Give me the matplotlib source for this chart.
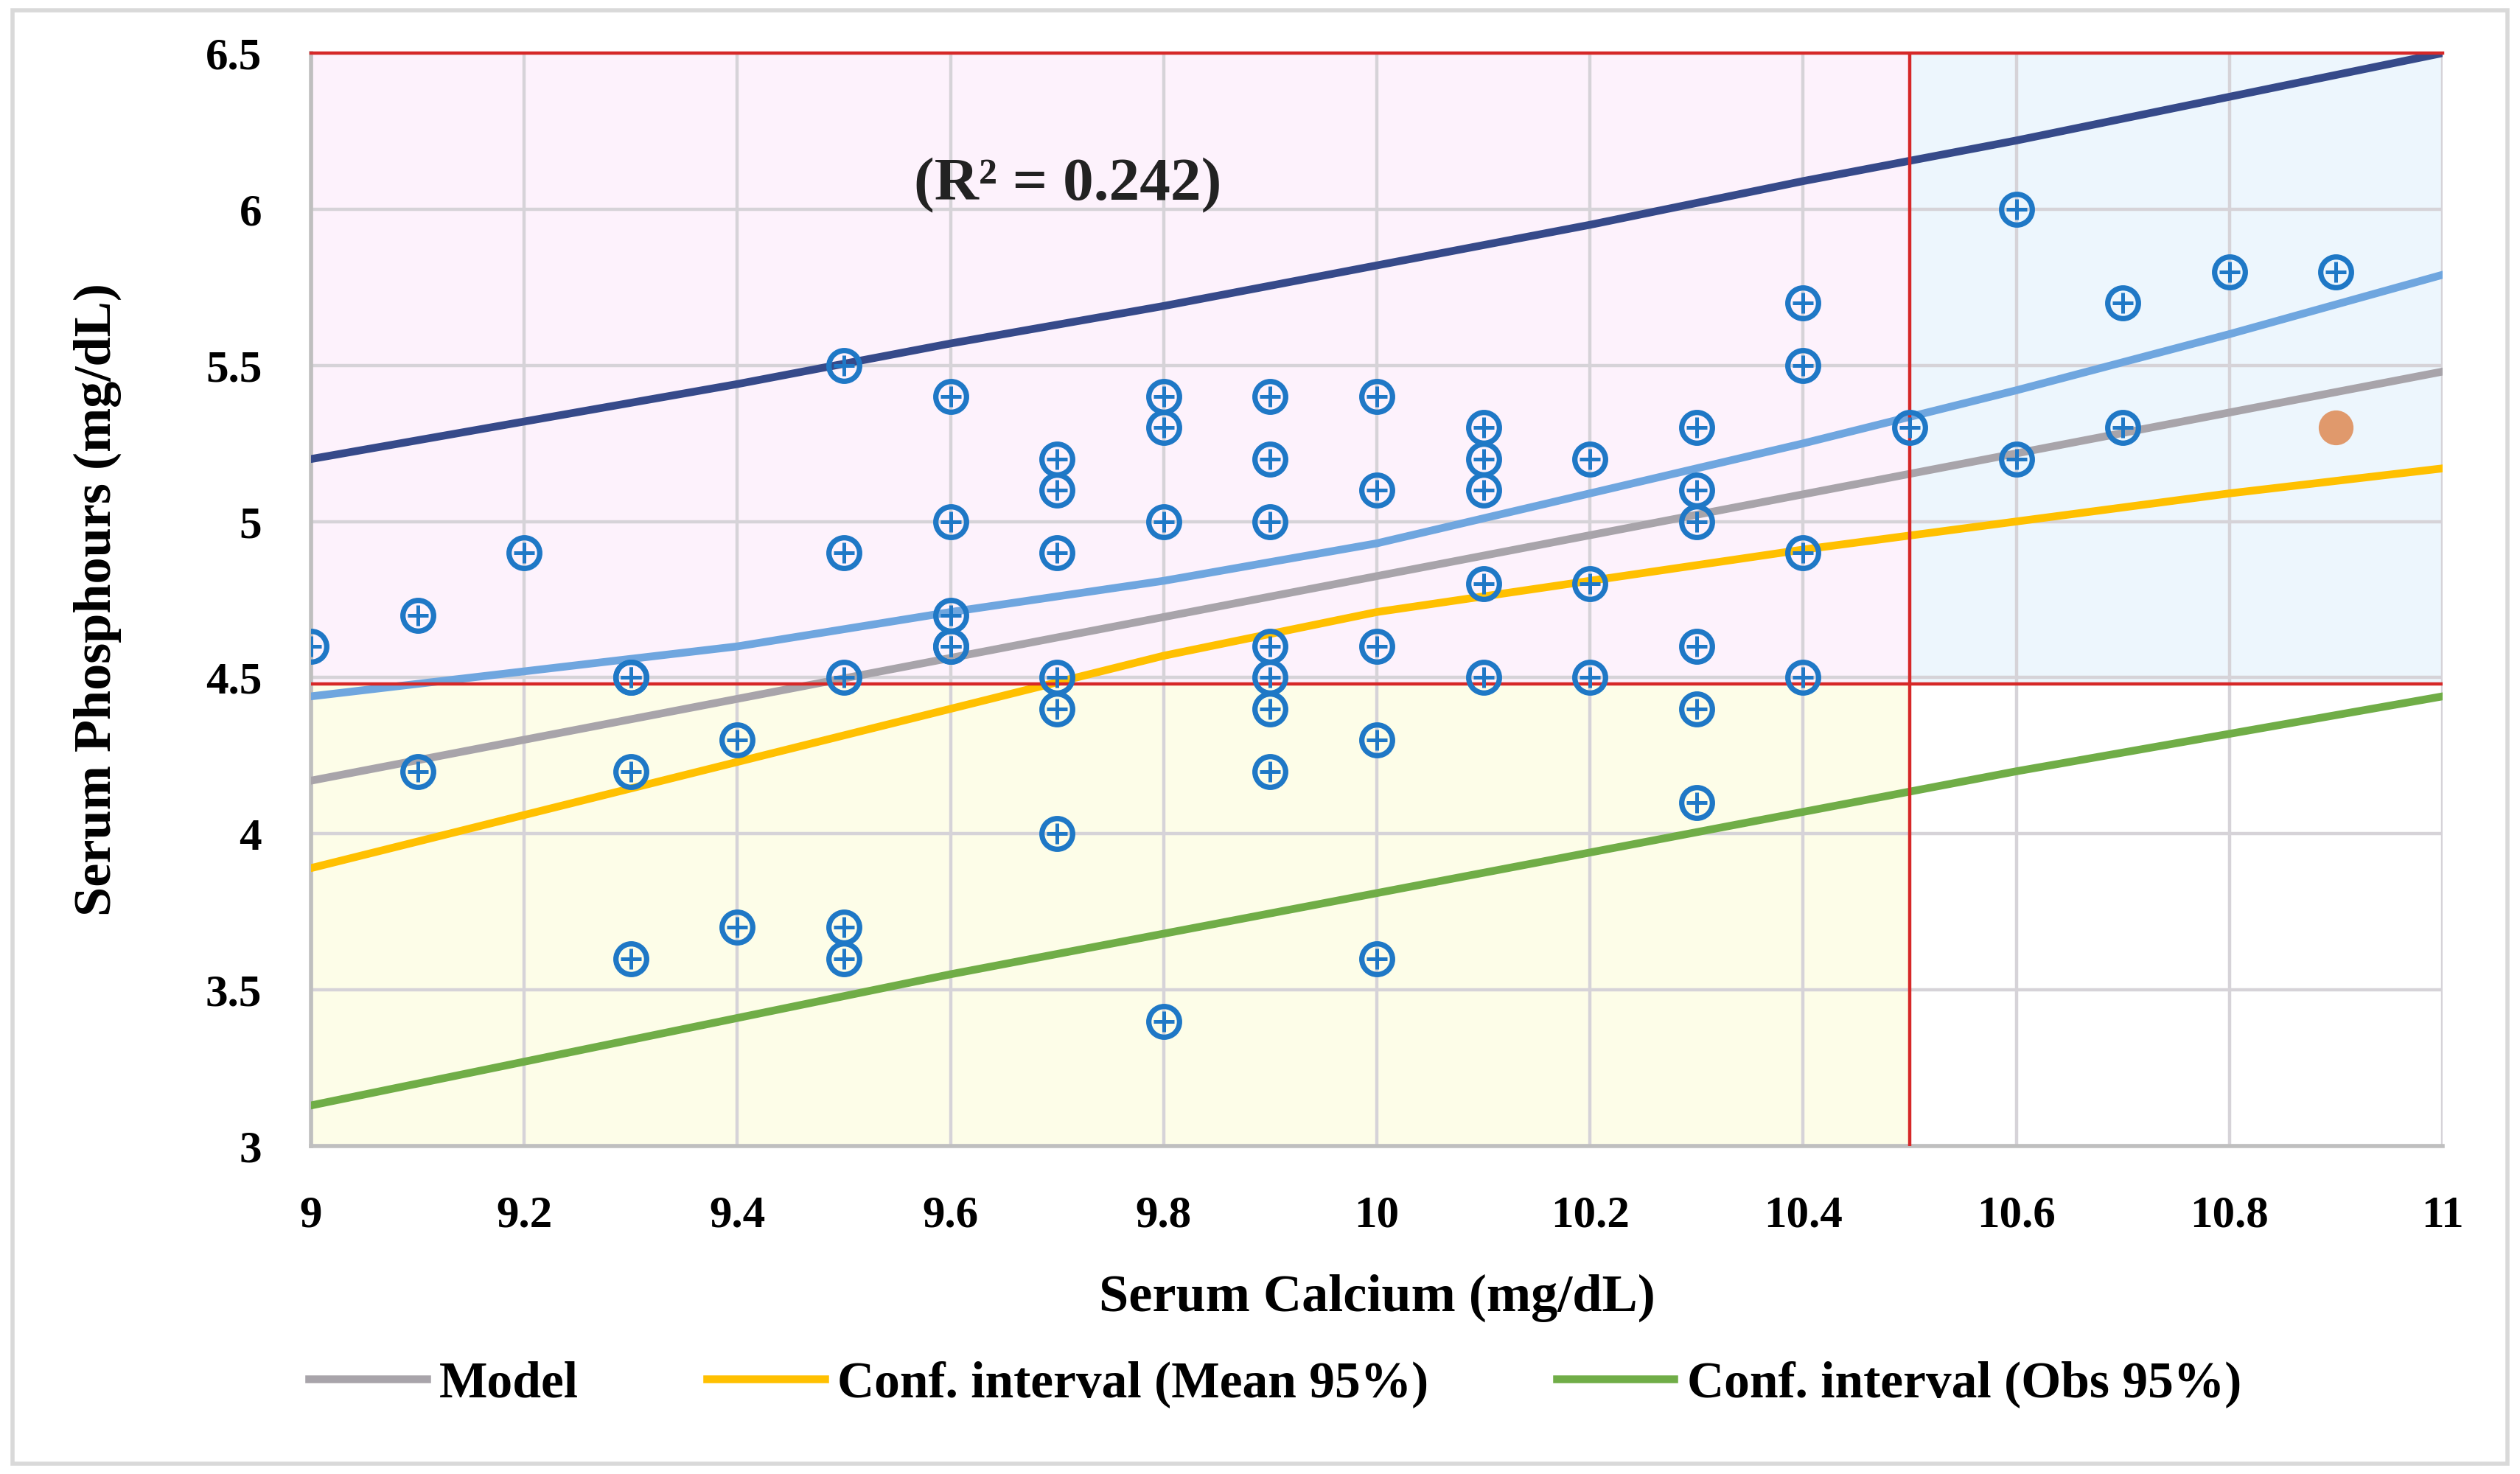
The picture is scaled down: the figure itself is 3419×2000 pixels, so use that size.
import numpy as np
import matplotlib.pyplot as plt
from matplotlib.patches import Rectangle

plt.rcParams['font.family'] = ['Liberation Serif', 'DejaVu Serif']

# Observed points (serum calcium vs serum phosphorus)
ca = [9.0, 9.1, 9.1, 9.2, 9.3, 9.3, 9.3, 9.3, 9.4, 9.4,
      9.5, 9.5, 9.5, 9.5, 9.5, 9.6, 9.6, 9.6, 9.6, 9.6,
      9.7, 9.7, 9.7, 9.7, 9.7, 9.7, 9.8, 9.8, 9.8, 9.8,
      9.9, 9.9, 9.9, 9.9, 9.9, 9.9, 9.9, 10.0, 10.0, 10.0, 10.0, 10.0,
      10.1, 10.1, 10.1, 10.1, 10.1, 10.2, 10.2, 10.2,
      10.3, 10.3, 10.3, 10.3, 10.3, 10.3, 10.4, 10.4, 10.4, 10.4,
      10.5, 10.6, 10.6, 10.7, 10.7, 10.8, 10.9]
phos = [4.6, 4.7, 4.2, 4.9, 4.5, 4.5, 4.2, 3.6, 4.3, 3.7,
        5.5, 4.9, 4.5, 3.7, 3.6, 5.4, 5.0, 4.7, 4.6, 4.6,
        5.2, 5.1, 4.9, 4.5, 4.4, 4.0, 5.4, 5.3, 5.0, 3.4,
        5.4, 5.2, 5.0, 4.6, 4.5, 4.4, 4.2, 5.4, 5.1, 4.6, 4.3, 3.6,
        5.3, 5.2, 5.1, 4.8, 4.5, 5.2, 4.8, 4.5,
        5.3, 5.1, 5.0, 4.6, 4.4, 4.1, 5.7, 5.5, 4.9, 4.5,
        5.3, 6.0, 5.2, 5.7, 5.3, 5.8, 5.8]
# highlighted observation
ca_hl = [10.9]
phos_hl = [5.3]

# Model and interval curves
model_x = [9.0, 11.0]
model_y = [4.17, 5.48]
curve_x = [9.0, 9.2, 9.4, 9.6, 9.8, 10.0, 10.2, 10.4, 10.6, 10.8, 11.0]
mean_lo = [3.89, 4.06, 4.23, 4.40, 4.57, 4.71, 4.81, 4.91, 5.00, 5.09, 5.17]
mean_hi = [4.44, 4.52, 4.60, 4.71, 4.81, 4.93, 5.09, 5.25, 5.42, 5.60, 5.79]
obs_lo = [3.13, 3.27, 3.41, 3.55, 3.68, 3.81, 3.94, 4.07, 4.20, 4.32, 4.44]
obs_hi = [5.20, 5.32, 5.44, 5.57, 5.69, 5.82, 5.95, 6.09, 6.22, 6.36, 6.50]

ca_cut = 10.5
p_cut = 4.48
x_min, x_max = 9, 11
y_min, y_max = 3, 6.5
x_ticks = np.arange(9, 11.01, 0.2)
y_ticks = np.arange(3, 6.51, 0.5)

fig = plt.figure(figsize=(17.095, 10), dpi=200)
ax = fig.add_axes([0.1234, 0.2225, 0.8459, 0.7415])

# quadrant shading
ax.add_patch(Rectangle((x_min, p_cut), ca_cut - x_min, y_max - p_cut, color='#fdf2fc', zorder=0))
ax.add_patch(Rectangle((ca_cut, p_cut), x_max - ca_cut, y_max - p_cut, color='#edf6fd', zorder=0))
ax.add_patch(Rectangle((x_min, y_min), ca_cut - x_min, p_cut - y_min, color='#fdfde8', zorder=0))

ax.set_xlim(x_min, x_max)
ax.set_ylim(y_min, y_max)
ax.set_xticks(x_ticks)
ax.set_yticks(y_ticks)
ax.set_xticklabels([f'{v:g}' for v in np.round(x_ticks, 1)])
ax.set_yticklabels([f'{v:g}' for v in y_ticks])
ax.grid(True, color='#d6d3d8', lw=1.6, zorder=1)
ax.set_axisbelow(True)
ax.tick_params(length=0, labelsize=22, pad=24)
for lab in ax.get_xticklabels() + ax.get_yticklabels():
    lab.set_fontweight('bold')
for s in ['top', 'right']:
    ax.spines[s].set_visible(False)
for s in ['left', 'bottom']:
    ax.spines[s].set_color('#bfbfbf')
    ax.spines[s].set_linewidth(2)

# lines
l1, = ax.plot(model_x, model_y, color='#a8a4aa', lw=3.8, label='Model', zorder=3)
l2, = ax.plot(curve_x, mean_lo, color='#ffc000', lw=3.8, label='Conf. interval (Mean 95%)', zorder=3)
ax.plot(curve_x, mean_hi, color='#6fa6df', lw=3.8, zorder=3)
l3, = ax.plot(curve_x, obs_lo, color='#70ad47', lw=3.8, label='Conf. interval (Obs 95%)', zorder=3)
ax.plot(curve_x, obs_hi, color='#364a8a', lw=3.8, zorder=3)

# threshold lines
ax.axhline(y_max, color='#d62828', lw=1.6, clip_on=False, zorder=4)
ax.axhline(p_cut, color='#d62828', lw=1.6, zorder=4)
ax.axvline(ca_cut, color='#d62828', lw=1.6, zorder=4)

# points
ax.plot(ca, phos, 'o', mfc='none', mec='#1f78c6', ms=15, mew=2.6, zorder=5)
ax.plot(ca, phos, '+', color='#1f78c6', ms=10, mew=1.8, zorder=5)
ax.plot(ca_hl, phos_hl, 'o', color='#e0996c', ms=16, zorder=5)

ax.text(9.71, 6.03, '(R² = 0.242)', fontsize=30, fontweight='bold', ha='center',
        va='baseline', color='#222222')

ax.set_xlabel('Serum Calcium (mg/dL)', fontsize=26, fontweight='bold')
ax.set_ylabel('Serum Phosphours (mg/dL)', fontsize=26, fontweight='bold')
ax.xaxis.set_label_coords(0.5, -0.117)
ax.yaxis.set_label_coords(-0.089, 0.5)

fig.legend(handles=[l1, l2, l3], loc='center', bbox_to_anchor=(0.506, 0.061), ncol=3,
           frameon=False, handlelength=2.3, handletextpad=0.25, columnspacing=2.5,
           prop={'weight': 'bold', 'size': 25})

# outer frame
fig.add_artist(Rectangle((0.005, 0.007), 0.99, 0.986, transform=fig.transFigure,
                         fill=False, edgecolor='#d9d9d9', lw=2))

fig.savefig('out.png', dpi=200, facecolor='white')
